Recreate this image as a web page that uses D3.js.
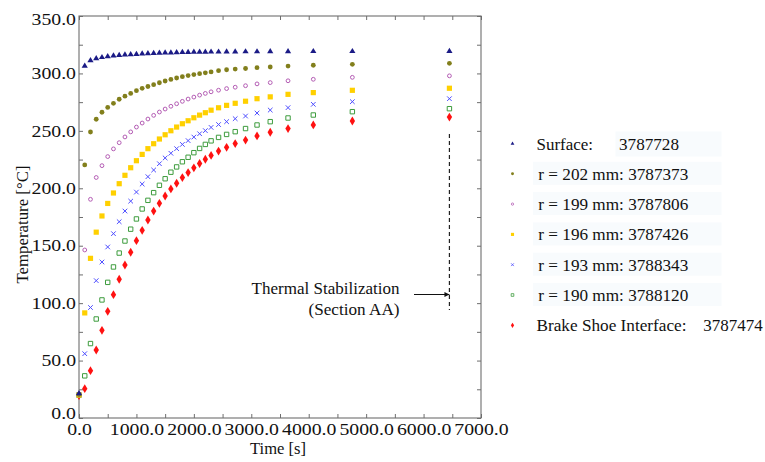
<!DOCTYPE html>
<html>
<head>
<meta charset="utf-8">
<script src="https://cdn.jsdelivr.net/npm/d3@7"></script>
<style>
  html, body { margin: 0; padding: 0; background: #fff; }
  svg { display: block; font-family: "Liberation Serif", "Times New Roman", Times, serif; }
</style>
</head>
<body>
<svg id="chart" width="765" height="462"></svg>
<script>
// Sampling times [s]
const times = [0, 100, 200, 300, 400, 500, 600, 700, 800, 900, 1000, 1100, 1200, 1300,
  1400, 1500, 1600, 1700, 1800, 1900, 2000, 2100, 2200, 2300, 2430, 2570, 2720, 2900,
  3100, 3330, 3640, 4080, 4760, 6450];

// Temperatures [°C] per measuring node
const surface = [21.5, 306.7, 311.5, 313.3, 314.2, 315.0, 315.6, 316.0, 316.4, 316.7, 317.0,
  317.3, 317.6, 317.8, 318.0, 318.2, 318.3, 318.5, 318.6, 318.7, 318.8, 318.9, 318.9, 319.0,
  319.0, 319.1, 319.1, 319.2, 319.2, 319.3, 319.3, 319.4, 319.4, 319.5];
const r202 = [20.5, 220.3, 249.0, 260.1, 266.2, 270.4, 274.0, 277.5, 280.2, 282.6, 285.0,
  287.0, 288.6, 290.2, 291.9, 293.4, 294.8, 296.0, 297.2, 298.1, 299.0, 299.8, 300.5, 301.3,
  302.4, 303.2, 303.8, 304.3, 305.0, 305.6, 306.4, 307.1, 307.9, 308.8];
const r199 = [20.5, 146.3, 190.4, 209.4, 219.7, 227.6, 234.3, 239.7, 244.7, 249.1, 253.3,
  256.8, 260.3, 263.5, 266.4, 269.0, 271.4, 273.6, 275.7, 277.7, 279.4, 281.1, 282.6, 284.0,
  285.4, 286.8, 288.0, 289.3, 290.9, 292.0, 293.6, 294.9, 296.6, 297.9];
const r196 = [20.0, 91.5, 139.0, 161.8, 175.9, 186.8, 195.9, 204.0, 211.3, 217.9, 224.0,
  229.5, 234.5, 238.8, 242.9, 246.6, 250.1, 253.3, 256.2, 258.8, 261.4, 263.7, 265.8, 268.0,
  270.1, 272.2, 274.0, 275.8, 278.0, 279.6, 281.8, 283.3, 285.3, 287.1];
const r193 = [20.0, 56.0, 96.2, 119.6, 135.8, 148.9, 160.5, 170.9, 180.2, 188.8, 196.7,
  203.7, 210.1, 215.9, 221.4, 226.4, 230.5, 234.5, 238.2, 241.5, 244.6, 247.5, 250.2, 253.0,
  255.5, 258.0, 260.6, 262.9, 265.5, 268.1, 270.2, 273.1, 275.4, 278.0];
const r190 = [20.0, 36.7, 64.8, 86.2, 102.8, 118.1, 131.5, 143.6, 154.1, 164.4, 173.3,
  182.0, 189.5, 196.2, 202.6, 208.3, 214.0, 218.6, 223.1, 227.0, 231.0, 234.7, 238.2, 241.3,
  244.3, 246.9, 249.3, 252.0, 255.1, 258.0, 261.2, 263.8, 266.7, 269.3];
const brakeShoe = [19.5, 25.5, 41.2, 59.2, 76.3, 92.9, 107.4, 120.8, 133.2, 144.3, 154.4,
  163.4, 172.4, 180.2, 186.9, 193.3, 199.4, 204.4, 209.3, 213.7, 217.8, 221.6, 225.3, 228.6,
  232.4, 235.7, 238.9, 242.0, 245.6, 248.8, 252.0, 255.2, 258.6, 262.0];

// Legend entries: label, sensor id
const legendLabels = ["Surface:", "r = 202 mm:", "r = 199 mm:", "r = 196 mm:", "r = 193 mm:", "r = 190 mm:", "Brake Shoe Interface:"];
const sensorIds = ["3787728", "3787373", "3787806", "3787426", "3788343", "3788120", "3787474"];

// Axis ticks
const xTicks = d3.range(0, 7001, 500);
const yTicks = d3.range(0, 351, 25);

// Marker of the stabilization time
const stabilizationTime = 6450;

const seriesValues = [surface, r202, r199, r196, r193, r190, brakeShoe];
const styles = [
  { kind: "triangle", fill: "#1b1b86", stroke: "none" },
  { kind: "dot", fill: "#827f1c", stroke: "none" },
  { kind: "ring", fill: "none", stroke: "#b45cb4" },
  { kind: "square", fill: "#ffd000", stroke: "none" },
  { kind: "cross", fill: "none", stroke: "#4e4eff" },
  { kind: "box", fill: "none", stroke: "#3d9c3d" },
  { kind: "diamond", fill: "#ff1111", stroke: "none" }
];

function markerPath(kind, k) {
  const p = d3.path();
  if (kind === "triangle") {
    const s = 6.2 * k, h = 5.2 * k;
    p.moveTo(0, -h * 0.62); p.lineTo(s / 2, h * 0.38); p.lineTo(-s / 2, h * 0.38); p.closePath();
  } else if (kind === "dot") {
    const r = 2.4 * k; p.moveTo(r, 0); p.arc(0, 0, r, 0, 2 * Math.PI);
  } else if (kind === "ring") {
    const r = 1.9 * k; p.moveTo(r, 0); p.arc(0, 0, r, 0, 2 * Math.PI);
  } else if (kind === "square") {
    const a = 2.6 * k; p.rect(-a, -a, 2 * a, 2 * a);
  } else if (kind === "cross") {
    const a = 2.3 * k; p.moveTo(-a, -a); p.lineTo(a, a); p.moveTo(a, -a); p.lineTo(-a, a);
  } else if (kind === "box") {
    const a = 2.2 * k; p.rect(-a, -a, 2 * a, 2 * a);
  } else if (kind === "diamond") {
    const w = 2.7 * k, h = 4.4 * k;
    p.moveTo(0, -h); p.lineTo(w, 0); p.lineTo(0, h); p.lineTo(-w, 0); p.closePath();
  }
  return p.toString();
}

// Text helper: fixed rendered width so the layout holds with any serif face
function fitText(sel, width) {
  return sel.attr("textLength", width).attr("lengthAdjust", "spacingAndGlyphs");
}

const svg = d3.select("#chart");
const plotLeft = 79, plotRight = 481, plotTop = 16, plotBottom = 418;

const x = d3.scaleLinear().domain([0, 7000]).range([plotLeft, plotRight]);
const y = d3.scaleLinear().domain([0, 350]).range([plotBottom, plotTop]);

const fmt = d3.format(".1f");
const frameColor = "#6e6e6e";
const tickFont = 17.5;
const tickStretch = 1.13;
const tickWidth = s => tickFont * tickStretch * (0.5 * s.replace(".", "").length + 0.25);

// Axes with inward ticks on all four sides
const axB = svg.append("g").attr("transform", `translate(0,${plotBottom})`)
  .call(d3.axisBottom(x).tickValues(xTicks).tickSize(-4).tickPadding(0)
    .tickFormat(d => d % 1000 === 0 ? fmt(d) : ""));
const axT = svg.append("g").attr("transform", `translate(0,${plotTop})`)
  .call(d3.axisTop(x).tickValues(xTicks).tickSize(-4).tickFormat(""));
const axL = svg.append("g").attr("transform", `translate(${plotLeft},0)`)
  .call(d3.axisLeft(y).tickValues(yTicks).tickSize(-4).tickPadding(0)
    .tickFormat(d => d % 50 === 0 ? fmt(d) : ""));
const axR = svg.append("g").attr("transform", `translate(${plotRight},0)`)
  .call(d3.axisRight(y).tickValues(yTicks).tickSize(-4).tickFormat(""));

[axB, axT, axL, axR].forEach(g => {
  g.attr("font-family", null);
  g.select(".domain").remove();
  g.selectAll(".tick line").attr("stroke", frameColor).attr("stroke-width", 1);
  g.selectAll("text").attr("font-size", tickFont).attr("fill", "#111");
});
axB.selectAll(".tick text")
  .attr("y", 17).attr("dy", null)
  .each(function () { const s = this.textContent; if (s) fitText(d3.select(this), tickWidth(s)); });
axL.selectAll(".tick text")
  .attr("x", -3)
  .attr("dy", d => d === 0 ? "0.05em" : d === 350 ? "0.46em" : "0.3em")
  .each(function () { const s = this.textContent; if (s) fitText(d3.select(this), tickWidth(s)); });

svg.append("rect")
  .attr("x", plotLeft).attr("y", plotTop)
  .attr("width", plotRight - plotLeft).attr("height", plotBottom - plotTop)
  .attr("fill", "none").attr("stroke", frameColor).attr("stroke-width", 1.1);

// Axis titles
fitText(svg.append("text")
  .attr("x", 250).attr("y", 454)
  .attr("font-size", 17).attr("fill", "#111")
  .text("Time [s]"), 56);
fitText(svg.append("text")
  .attr("transform", `translate(27.5,283.5) rotate(-90)`)
  .attr("font-size", 17).attr("fill", "#111")
  .text("Temperature [°C]"), 118);

// Data markers (interface series underneath, surface on top)
const plot = svg.append("g");
for (let i = seriesValues.length - 1; i >= 0; i--) {
  const st = styles[i];
  plot.append("g").selectAll("path")
    .data(times.map((t, j) => [t, seriesValues[i][j]]))
    .join("path")
    .attr("transform", d => `translate(${x(d[0])},${y(d[1])})`)
    .attr("d", markerPath(st.kind, 1))
    .attr("fill", st.fill)
    .attr("stroke", st.stroke)
    .attr("stroke-width", st.stroke === "none" ? null : 1);
}

// Thermal stabilization marker
const xs = x(stabilizationTime);
svg.append("line")
  .attr("x1", xs).attr("x2", xs).attr("y1", 134).attr("y2", 310)
  .attr("stroke", "#222").attr("stroke-width", 1.2).attr("stroke-dasharray", "4,3");

svg.append("defs").append("marker")
  .attr("id", "arrowHead").attr("viewBox", "0 0 10 10")
  .attr("refX", 10).attr("refY", 5)
  .attr("markerWidth", 5).attr("markerHeight", 5)
  .attr("markerUnits", "userSpaceOnUse")
  .attr("orient", "auto")
  .append("path").attr("d", "M0,0 L10,5 L0,10 Z").attr("fill", "#111");

svg.append("line")
  .attr("x1", 414).attr("x2", xs).attr("y1", 294.5).attr("y2", 294.5)
  .attr("stroke", "#111").attr("stroke-width", 1.2)
  .attr("marker-end", "url(#arrowHead)");

fitText(svg.append("text").attr("x", 251.5).attr("y", 294).attr("font-size", 16.7).attr("fill", "#111")
  .text("Thermal Stabilization"), 148);
fitText(svg.append("text").attr("x", 308.5).attr("y", 315).attr("font-size", 16.7).attr("fill", "#111")
  .text("(Section AA)"), 91);

// Legend
const legend = svg.append("g");
const rowY = i => 143.5 + i * 30.3;
legendLabels.forEach((label, i) => {
  const g = legend.append("g");
  const cy = rowY(i);
  if (i === 0) {
    g.append("rect").attr("x", 615.5).attr("y", cy - 12).attr("width", 106).attr("height", 25).attr("fill", "#f8fbfd");
  } else if (i < 6) {
    g.append("rect").attr("x", 533).attr("y", cy - 12).attr("width", 188.5).attr("height", 23).attr("fill", "#f8fbfd");
  }
  const st = styles[i];
  g.append("path")
    .attr("transform", `translate(512.5,${cy})`)
    .attr("d", markerPath(st.kind, 0.6))
    .attr("fill", st.fill).attr("stroke", st.stroke)
    .attr("stroke-width", st.stroke === "none" ? null : 0.8);
  const txt = (xp, s, w) => fitText(g.append("text").attr("x", xp).attr("y", cy + 6)
    .attr("font-size", 16.7).attr("fill", "#111").text(s), w);
  if (i === 0) {
    txt(536.5, label, 56.5);
    txt(619, sensorIds[i], 60);
  } else if (i === 6) {
    txt(536.5, label, 150);
    txt(703.3, sensorIds[i], 59.5);
  } else {
    txt(538.3, `${label} ${sensorIds[i]}`, 150);
  }
});
</script>
</body>
</html>
